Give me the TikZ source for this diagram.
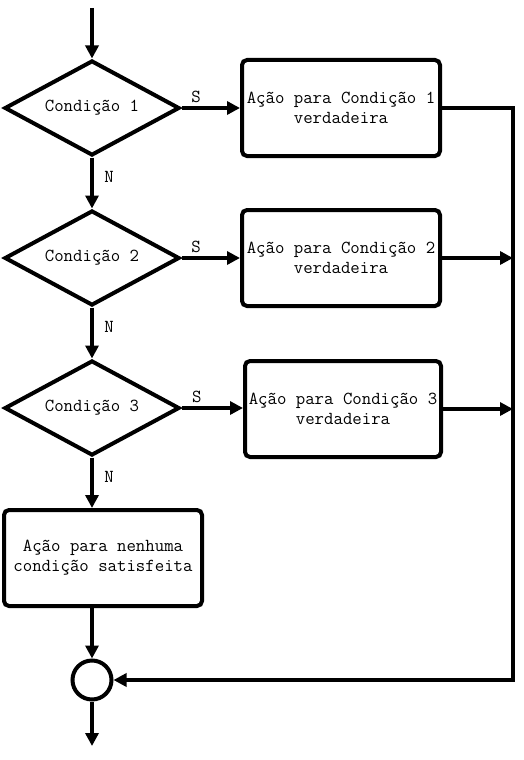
\documentclass[tikz,border=0pt]{standalone}
\usepackage{amsmath}
\usepackage{amsfonts}
\usepackage{fontspec}
\usetikzlibrary{shapes.geometric,arrows.meta}

\begin{document}
\begin{tikzpicture}[x=1pt,y=-1pt,
	every node/.style={font=\ttfamily\fontsize{18.3}{20}\selectfont},
	seta/.style={line width=4pt,-{Triangle[length=13pt,width=13pt]}},
	cond/.style={diamond,draw,line width=4pt,aspect=1.8,inner sep=0pt,minimum width=175pt,minimum height=95pt},
	acao/.style={rectangle,draw,line width=4pt,rounded corners=5pt,align=center,minimum width=198pt,minimum height=96pt},
	juncao/.style={circle,draw,line width=4pt,inner sep=0pt,minimum size=39pt}]
					\useasboundingbox (0,0) rectangle (523,760);
					
					\node[cond] (c1) at (92,108) {Condição 1};
					\node[cond] (c2) at (92,258) {Condição 2};
					\node[cond] (c3) at (92,408) {Condição 3};
					\node[acao] (a1) at (341,108) {Ação para Condição 1\\verdadeira};
					\node[acao] (a2) at (341,258) {Ação para Condição 2\\verdadeira};
					\node[acao,minimum width=196pt] (a3) at (343,409) {Ação para Condição 3\\verdadeira};
					\node[acao,minimum width=198pt] (a4) at (103,558) {Ação para nenhuma\\condição satisfeita};
					\node[juncao] (fim) at (92,680) {};
					\coordinate (ini) at (92,8);
					\coordinate (sai) at (92,746);
					\coordinate (dir) at (513,0);
					
					\draw[seta](ini)--(c1.north);
					\draw[seta](c1.east)--node[pos=0.25,above]{S}(a1.west);
					\draw[seta](c2.east)--node[pos=0.25,above]{S}(a2.west);
					\draw[seta](c3.east)--node[pos=0.25,above]{S}(c3.east -| a3.west);
					\draw[seta](c1.south)--node[pos=0.38,right=7pt]{N}(c2.north);
					\draw[seta](c2.south)--node[pos=0.38,right=7pt]{N}(c3.north);
					\draw[seta](c3.south)--node[pos=0.38,right=7pt]{N}(c3.south |- a4.north);
					\draw[seta](a2.east)--(a2.east -| dir);
					\draw[seta](a3.east)--(a3.east -| dir);
					\draw[seta](a1.east)-|(dir |- fim.east)--(fim.east);
					\draw[seta](a4.south -| fim)--(fim.north);
					\draw[seta](fim.south)--(sai);
\end{tikzpicture}
\end{document}
